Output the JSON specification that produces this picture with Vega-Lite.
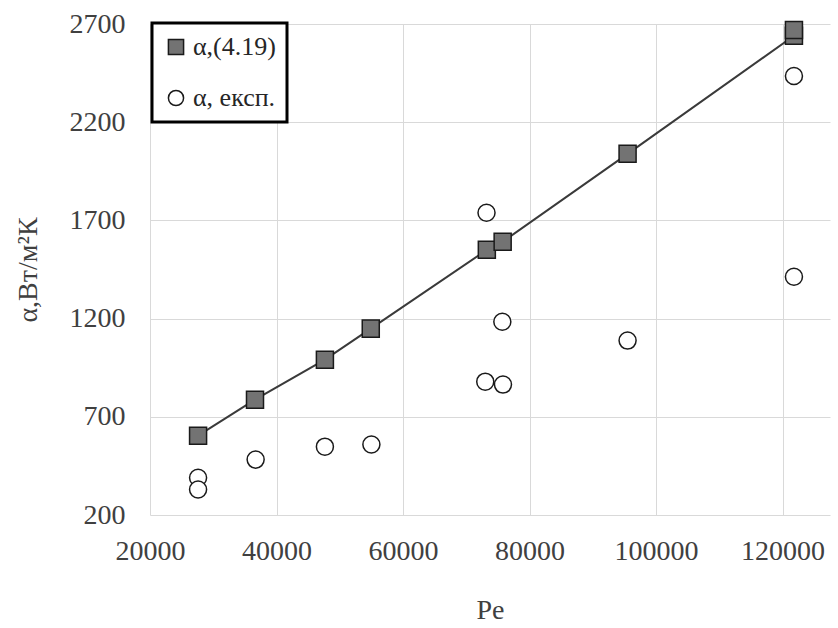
{
  "$schema": "https://vega.github.io/schema/vega-lite/v6.json",
  "autosize": "none",
  "width": 680,
  "height": 491,
  "padding": {"left": 150, "top": 24, "right": 8, "bottom": 113},
  "background": "white",
  "data": {
    "values": [
      {"Pe": 27600, "a": 604, "series": "α,(4.19)"},
      {"Pe": 36600, "a": 787, "series": "α,(4.19)"},
      {"Pe": 47650, "a": 991, "series": "α,(4.19)"},
      {"Pe": 54900, "a": 1149, "series": "α,(4.19)"},
      {"Pe": 73250, "a": 1550, "series": "α,(4.19)"},
      {"Pe": 75750, "a": 1591, "series": "α,(4.19)"},
      {"Pe": 95500, "a": 2039, "series": "α,(4.19)"},
      {"Pe": 121800, "a": 2640, "series": "α,(4.19)"},
      {"Pe": 121800, "a": 2670, "series": "α,(4.19)"},
      {"Pe": 27600, "a": 390, "series": "α, експ."},
      {"Pe": 27600, "a": 330, "series": "α, експ."},
      {"Pe": 36700, "a": 482, "series": "α, експ."},
      {"Pe": 47650, "a": 548, "series": "α, експ."},
      {"Pe": 55000, "a": 559, "series": "α, експ."},
      {"Pe": 73200, "a": 1739, "series": "α, експ."},
      {"Pe": 75700, "a": 1184, "series": "α, експ."},
      {"Pe": 73000, "a": 879, "series": "α, експ."},
      {"Pe": 75800, "a": 864, "series": "α, експ."},
      {"Pe": 95500, "a": 1088, "series": "α, експ."},
      {"Pe": 121800, "a": 2435, "series": "α, експ."},
      {"Pe": 121800, "a": 1413, "series": "α, експ."}
    ]
  },
  "encoding": {
    "x": {
      "field": "Pe", "type": "quantitative", "title": "Pe",
      "scale": {"domain": [20000, 127500], "nice": false, "zero": false},
      "axis": {"values": [20000, 40000, 60000, 80000, 100000, 120000], "labelPadding": 22, "titlePadding": 31, "format": "d", "labelFlush": false}
    },
    "y": {
      "field": "a", "type": "quantitative", "title": "α,Вт/м²К",
      "scale": {"domain": [200, 2700], "nice": false, "zero": false},
      "axis": {"values": [200, 700, 1200, 1700, 2200, 2700], "labelPadding": 25, "titlePadding": 27, "format": "d"}
    }
  },
  "layer": [
    {
      "transform": [{"filter": "datum.series === 'α,(4.19)'"}],
      "mark": {"type": "line", "color": "#3a3a3a", "strokeWidth": 2},
      "encoding": {"order": {"field": "a", "type": "quantitative"}}
    },
    {
      "mark": {"type": "point", "filled": true, "opacity": 1, "strokeWidth": 1.5, "size": 290},
      "encoding": {
        "shape": {
          "field": "series", "type": "nominal",
          "scale": {"domain": ["α,(4.19)", "α, експ."], "range": ["square", "circle"]},
          "legend": {"title": null}
        },
        "fill": {
          "field": "series", "type": "nominal",
          "scale": {"domain": ["α,(4.19)", "α, експ."], "range": ["#737373", "#ffffff"]},
          "legend": {"title": null}
        },
        "stroke": {
          "field": "series", "type": "nominal",
          "scale": {"domain": ["α,(4.19)", "α, експ."], "range": ["#1a1a1a", "#1a1a1a"]},
          "legend": {"title": null}
        }
      }
    }
  ],
  "config": {
    "view": {"stroke": null},
    "axis": {
      "domain": false, "ticks": false,
      "gridColor": "#d9d9d9", "gridWidth": 1,
      "labelFont": "Liberation Serif", "labelFontSize": 28, "labelColor": "#404040",
      "titleFont": "Liberation Serif", "titleFontSize": 28, "titleFontWeight": "normal", "titleColor": "#404040"
    },
    "legend": {
      "orient": "none", "legendX": 2, "legendY": -1,
      "strokeColor": "#000000", "strokeWidth": 3, "fillColor": "white",
      "padding": 11, "rowPadding": 25,
      "labelFont": "Liberation Serif", "labelFontSize": 26, "labelColor": "#262626",
      "labelOffset": 4, "symbolSize": 230, "symbolStrokeWidth": 1.5
    }
  }
}
